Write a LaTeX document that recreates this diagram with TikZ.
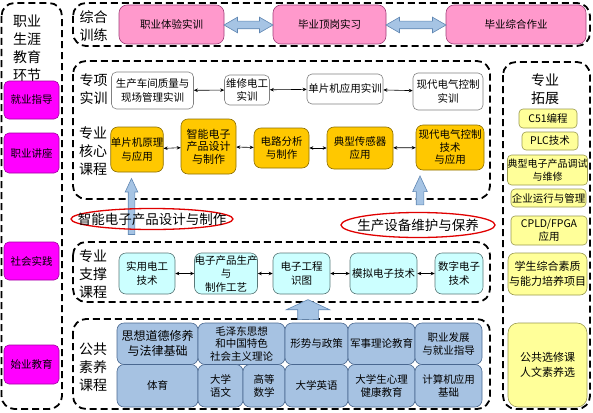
\documentclass[tikz,border=0pt]{standalone}
\usepackage{fontspec}
\setmainfont{Noto Sans CJK SC}
\usetikzlibrary{arrows.meta,shapes.geometric,shapes.arrows}
\definecolor{tagfill}{HTML}{FF00FF}
\definecolor{tagline}{HTML}{A000A0}
\definecolor{pinkfill}{HTML}{FF99CC}
\definecolor{pinkline}{HTML}{A0407A}
\definecolor{goldfill}{HTML}{FFC800}
\definecolor{goldline}{HTML}{8C6E00}
\definecolor{cyanfill}{HTML}{CCFFFF}
\definecolor{cyanline}{HTML}{5A7878}
\definecolor{bluefill}{HTML}{A6C2E2}
\definecolor{blueline}{HTML}{4A6890}
\definecolor{yelfill}{HTML}{FFFF99}
\definecolor{yelline}{HTML}{9A9A50}
\definecolor{fatfill}{HTML}{A6C4E4}
\definecolor{fatline}{HTML}{5F86B2}
\definecolor{ringred}{HTML}{E00000}
\tikzset{
  frame/.style={draw, line width=1.8pt, dash pattern=on 7pt off 4pt, rounded corners=13pt},
  ttl/.style={align=center, inner sep=0pt, font=\fontsize{14}{18}\selectfont},
  box/.style={draw, rounded corners=5pt, inner sep=0pt, align=center, line width=0.6pt,
    font=\fontsize{10.5}{13.5}\selectfont},
  tagbox/.style={box, fill=tagfill, draw=tagline, minimum width=55},
  pinkbox/.style={box, fill=pinkfill, draw=pinkline, minimum height=39, rounded corners=8pt},
  whitebox/.style={box, fill=white, draw=gray},
  corebox/.style={box, fill=goldfill, draw=goldline, rounded corners=7pt},
  supbox/.style={box, fill=cyanfill, draw=cyanline, minimum height=41, rounded corners=7pt},
  pubbox/.style={box, fill=bluefill, draw=blueline, rounded corners=7pt},
  extbox/.style={box, fill=yelfill, draw=yelline, rounded corners=4pt},
  ring/.style={ellipse, draw=ringred, line width=1.3pt, inner sep=0pt},
  fatdouble/.style={double arrow, draw=fatline, fill=fatfill, line width=0.6pt,
    inner xsep=0pt, inner ysep=3.5pt, double arrow head extend=4pt, double arrow tip angle=60},
  fatup/.style={single arrow, draw=fatline, fill=fatfill, line width=0.6pt,
    inner xsep=0pt, rotate=90},
  link/.style={<->, >={Stealth[length=4pt,width=3.5pt]}, line width=0.6pt}
}
\begin{document}
\begin{tikzpicture}[x=1pt,y=-1pt]
  \useasboundingbox (0,0) rectangle (593,412);
  \draw[frame] (1.5,3) rectangle (62,409);
  \draw[frame] (73,3) rectangle (590,46);
  \draw[frame] (73,61) rectangle (490,199);
  \draw[frame] (73,242) rectangle (490,302);
  \draw[frame] (73,319) rectangle (490,409);
  \draw[frame] (503,62) rectangle (590,409);

  \path
    (27,48.5) node[ttl] (career) {职业\\生涯\\教育\\环节}
    (93.5,26) node[ttl] (combo) {综合\\训练}
    (93.5,89) node[ttl] (special) {专项\\实训}
    (93,151) node[ttl] (core) {专业\\核心\\课程}
    (93,274) node[ttl] (support) {专业\\支撑\\课程}
    (93,367) node[ttl] (public) {公共\\素养\\课程}
    (545,89) node[ttl] (extend) {专业\\拓展};

  \path
    (31.5,100) node[tagbox, minimum height=38] (jy) {就业指导}
    (31.5,153) node[tagbox, minimum height=40] (jz) {职业讲座}
    (31.5,261) node[tagbox, minimum height=38] (sh) {社会实践}
    (31.5,364.5) node[tagbox, minimum height=39] (sy) {始业教育};

  \path
    (171.5,24.5) node[pinkbox, minimum width=105] (p1) {职业体验实训}
    (329.5,24.5) node[pinkbox, minimum width=113] (p2) {毕业顶岗实习}
    (516,24.5) node[pinkbox, minimum width=140] (p3) {毕业综合作业};
  \node[fatdouble, minimum height=49] (d1) at (248.5,25) {};
  \node[fatdouble, minimum height=60] (d2) at (416,25) {};

  \path
    (152.5,90.5) node[whitebox, minimum width=82, minimum height=37] (w1) {生产车间质量与\\现场管理实训}
    (247,90) node[whitebox, minimum width=45, minimum height=30] (w2) {维修电工\\实训}
    (345,89) node[whitebox, minimum width=76, minimum height=30] (w3) {单片机应用实训}
    (448,91.5) node[whitebox, minimum width=70, minimum height=37] (w4) {现代电气控制\\实训};

  \path
    (137,149.5) node[corebox, minimum width=50, minimum height=45] (g1) {单片机原理\\与应用}
    (208.5,146.5) node[corebox, minimum width=55, minimum height=55,
      font=\fontsize{11}{12.5}\selectfont] (g2) {智能电子\\产品设计\\与制作}
    (281.5,148) node[corebox, minimum width=55, minimum height=40] (g3) {电路分析\\与制作}
    (360,148) node[corebox, minimum width=66, minimum height=42] (g4) {典型传感器\\应用}
    (450,147.5) node[corebox, minimum width=68, minimum height=45,
      font=\fontsize{10.5}{12.5}\selectfont] (g5) {现代电气控制\\技术\\与应用};

  \node[fatup, inner ysep=3pt, single arrow head extend=3pt, single arrow tip angle=50,
    minimum height=56] (u1) at (131.5,210) {};
  \node[fatup, inner ysep=3.5pt, single arrow head extend=3.5pt, single arrow tip angle=50,
    minimum height=29] (u2) at (420,194.5) {};
  \node[fatup, inner ysep=10pt, single arrow head extend=11.5pt, single arrow tip angle=130,
    minimum height=20] (u3) at (308,312) {};

  \node[ring, minimum width=162, minimum height=21,
    label={[font=\fontsize{13.5}{16}\selectfont]center:智能电子产品设计与制作}] (skill1) at (152,219) {};
  \node[ring, minimum width=154, minimum height=25,
    label={[font=\fontsize{13.5}{16}\selectfont]center:生产设备维护与保养}] (skill2) at (418,225) {};

  \path
    (147,273.5) node[supbox, minimum width=56] (c1) {实用电工\\技术}
    (226,273.5) node[supbox, minimum width=62] (c2) {电子产品生产\\与\\制作工艺}
    (301.5,273.5) node[supbox, minimum width=57] (c3) {电子工程\\识图}
    (383.5,273.5) node[supbox, minimum width=67] (c4) {模拟电子技术}
    (459,273.5) node[supbox, minimum width=48] (c5) {数字电子\\技术};

  \path
    (157.5,343.75) node[pubbox, minimum width=81, minimum height=41.5,
      font=\fontsize{12}{15}\selectfont] (b1) {思想道德修养\\与法律基础}
    (241.5,343.75) node[pubbox, minimum width=87, minimum height=41.5,
      font=\fontsize{10.5}{12.5}\selectfont] (b2) {毛泽东思想\\和中国特色\\社会主义理论}
    (316.5,343.75) node[pubbox, minimum width=63, minimum height=41.5] (b3) {形势与政策}
    (381.5,343.75) node[pubbox, minimum width=67, minimum height=41.5] (b4) {军事理论教育}
    (448.5,343.75) node[pubbox, minimum width=67, minimum height=41.5] (b5) {职业发展\\与就业指导}
    (157.5,385.75) node[pubbox, minimum width=81, minimum height=42.5] (b6) {体育}
    (220.5,385.75) node[pubbox, minimum width=45, minimum height=42.5] (b7) {大学\\语文}
    (264,385.75) node[pubbox, minimum width=42, minimum height=42.5] (b8) {高等\\数学}
    (316.5,385.75) node[pubbox, minimum width=63, minimum height=42.5] (b9) {大学英语}
    (381.5,385.75) node[pubbox, minimum width=67, minimum height=42.5] (b10) {大学生心理\\健康教育}
    (448.5,385.75) node[pubbox, minimum width=67, minimum height=42.5] (b11) {计算机应用\\基础};

  \path
    (548,118.5) node[extbox, minimum width=58, minimum height=19] (e1) {C51编程}
    (550,141) node[extbox, minimum width=56, minimum height=18] (e2) {PLC技术}
    (547.5,170) node[extbox, minimum width=79, minimum height=30,
      font=\fontsize{10}{13}\selectfont] (e3) {典型电子产品调试\\与维修}
    (548.5,198) node[extbox, minimum width=75, minimum height=18] (e4) {企业运行与管理}
    (549,230.5) node[extbox, minimum width=76, minimum height=29] (e5) {CPLD/FPGA\\应用}
    (547.5,274) node[extbox, minimum width=79, minimum height=42, rounded corners=7pt,
      font=\fontsize{11}{15}\selectfont] (e6) {学生综合素质\\与能力培养项目}
    (547.5,365) node[extbox, minimum width=79, minimum height=84, rounded corners=10pt,
      font=\fontsize{11}{15}\selectfont] (e7) {公共选修课\\人文素养选};

  \begin{scope}[link]
    \draw (w1) to (w2);
    \draw (w2) to (w3);
    \draw (w3) to (w4);
    \draw (g1) to (g2);
    \draw (g2) to (g3);
    \draw (g3) to (g4);
    \draw (g4) to (g5);
    \draw (c1) to (c2);
    \draw (c2) to (c3);
    \draw (c3) to (c4);
    \draw (c4) to (c5);
  \end{scope}
\end{tikzpicture}
\end{document}
